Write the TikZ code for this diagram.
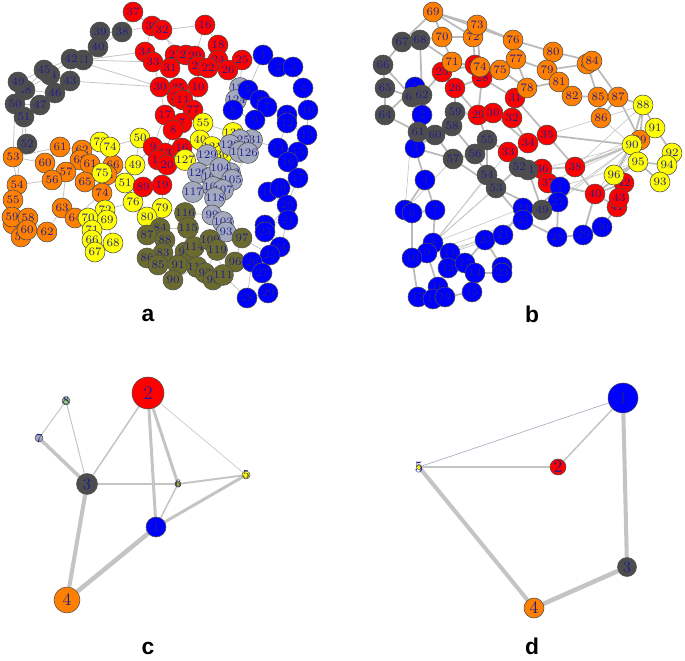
\documentclass[tikz,border=0pt]{standalone}
\usepackage{fontspec}
\newfontfamily\panelfont{Liberation Sans}
\usetikzlibrary{backgrounds}

\definecolor{vred}{HTML}{FF0000}
\definecolor{vblue}{HTML}{0000FF}
\definecolor{vgrey}{HTML}{4D4D4D}
\definecolor{vorange}{HTML}{FF7F00}
\definecolor{vyellow}{HTML}{FFFF00}
\definecolor{volive}{HTML}{6B6B2F}
\definecolor{vslate}{HTML}{A3A9BE}
\definecolor{vgreen}{HTML}{9ACD6A}
\definecolor{vlabel}{HTML}{1F1F8F}
\definecolor{egray}{HTML}{C4C4C4}

\tikzset{
  vtx/.style={circle, draw=black!70, line width=0.3pt, inner sep=0pt,
    minimum size=0.4cm, text=vlabel, font=\fontsize{6.5}{6.5}\selectfont},
  cnode/.style={circle, draw=black!70, line width=0.3pt, inner sep=0pt},
  lab/.style={text=vlabel, inner sep=0pt},
  aedge/.style={draw=egray, line width=0.45pt},
  bedge/.style={draw=egray!95!black, line width=1pt},
  fedge/.style={draw=egray, line width=0.35pt},
  panel/.style={font=\panelfont\fontsize{13}{15}\bfseries\selectfont}
}

\begin{document}
\begin{tikzpicture}[x=0.02cm, y=-0.02cm]
\useasboundingbox (0,0) rectangle (685,661);

% ---- panel a
\foreach \n/\x/\y/\t in {38/122/32/38, 39/100/32/39, 40/98/47/40, 41/83/60/41,
  42/71/59/42, 44/50/75/44, 45/44/70/45, 43/70/81/43, 46/55/93/46, 48/25/90/48,
  49/18/82/49, 47/40/105/47, 50/15/104/50, 51/24/117/51, 52/27/144/52}
  \node[vtx, fill=vgrey] (a\n) at (\x,\y) {\t};
\foreach \n/\x/\y/\t in {53/13/157/53, 54/17/185/54, 55/13/200/55, 56/13/224/56,
  59/12/217/59, 58/28/218/58, 57/21/237/57, 60/27/230/60, 62/47/232/62,
  63/62/208/63, 64/75/218/64, 61/60/147/61, o1/45/163/60, o3/82/150/62,
  o4/80/160/62, o5/90/164/61, o6/66/172/57, o7/52/180/56, o9/85/182/65,
  o10/113/165/66, o11/107/175/64, o12/102/193/74}
  \node[vtx, fill=vorange] (a\n) at (\x,\y) {\t};
\foreach \n/\x/\y/\t in {73/100/142/73, 74/110/147/74, 75/102/173/75, 78/135/165/49,
  81/125/183/51, 76/133/202/76, 79/162/208/79, 80/147/217/80, 72/105/210/72,
  69/107/220/69, 70/88/218/70, 71/92/230/71, 77/92/240/66, 67/95/252/67,
  68/113/243/68, y6/140/138/50}
  \node[vtx, fill=vyellow] (a\n) at (\x,\y) {\t};
\foreach \n/\x/\y/\t in {37/133/12/37, 36/152/26/36, 32/162/30/32, 19/205/25/16,
  18/218/45/18, 25/242/60/25, 24/218/60/24, 26/228/70/26, 34/145/52/34,
  33/153/62/33, 27/175/55/27, 28/186/55/28, 29/195/56/29, 21/198/66/21,
  22/208/68/22, 31/170/68/31, 30/160/87/30, 35/178/88/35, 23/177/97/23,
  10/198/87/10, 11/183/100/11, 17/193/110/77, 12/165/115/17, 7/182/123/7,
  8/173/130/8, 9/153/147/9, 13/165/153/13, 16/182/148/16, r1/158/160/14,
  20/167/165/20, 89/143/187/89, 15/162/185/19}
  \node[vtx, fill=vred] (a\n) at (\x,\y) {\t};
\foreach \n/\x/\y/\t in {y1/203/123/55, y2/200/140/40, y3/212/147/121,
  y4/222/155/30, y5/233/133/135, y7/185/160/127}
  \node[vtx, fill=vyellow] (a\n) at (\x,\y) {\t};
\foreach \n/\x/\y/\t in {s1/240/88/123, s2/236/100/124, s14/252/140/131,
  s3/240/140/125, s4/230/145/122, s5/240/152/128, 126/248/153/126, s6/207/155/129,
  s7/198/173/120, s8/212/177/101, s9/230/173/102, s10/220/168/104, s11/232/180/105,
  s12/213/187/106, s13/223/190/107, 117/193/192/117, 118/215/198/118,
  99/212/215/99, 103/223/222/103, 98/226/232/93}
  \node[vtx, fill=vslate] (a\n) at (\x,\y) {\t};
\foreach \n/\x/\y/\t in {84/160/228/84, 87/147/235/87, 88/165/240/88, 83/163/253/83,
  86/147/258/86, 85/158/265/85, 116/185/213/116, 115/188/228/115, 92/185/252/92,
  114/194/247/114, 109/210/240/109, 119/217/250/119, 97/242/238/97, 96/235/262/96,
  91/178/265/91, 90/173/280/90, 113/197/267/113, 93/205/273/93, 95/213/280/95,
  111/223/275/111}
  \node[vtx, fill=volive] (a\n) at (\x,\y) {\t};
\foreach \n/\x/\y/\t in {b1/263/55/1, b2/278/67/2, b3/293/67/3, b4/303/88/4,
  b5/248/90/5, b6/260/100/6, b7/267/107/7, b8/233/110/8, b9/255/120/9,
  b10/308/110/10, b11/287/115/11, b12/287/123/12, b13/307/135/13, b14/278/148/14,
  b15/298/152/15, b16/288/162/16, b17/298/178/17, b18/268/192/18, b19/280/188/19,
  b20/287/205/20, b21/288/220/21, b22/265/225/22, b23/265/232/23, b24/280/247/24,
  b25/270/255/25, b26/252/262/26, b27/262/273/27, b28/247/298/28, b29/268/293/29}
  \node[vtx, fill=vblue] (a\n) at (\x,\y) {\t};

\begin{pgfonlayer}{background}
\foreach \u/\v in {38/39, 39/40, 38/40, 40/41, 40/42, 41/42, 42/45, 42/44, 42/43,
  43/44, 44/45, 45/49, 44/48, 43/46, 46/47, 45/48, 48/49, 48/50, 49/50, 50/51,
  47/51, 46/48, 47/50, 51/52, 52/53, 38/36, 38/37, 41/33, 42/30, 43/30, 41/34,
  51/54, 50/53,
  53/54, 54/55, 55/59, 59/56, 59/58, 56/60, 58/60, 60/57, 58/62, 62/63, 63/64,
  57/62, 61/o1, o1/o7, o7/o6, o6/o3, o3/o4, o4/o5, o5/o9, o9/o10, o10/o11,
  o11/o12, 61/o3, 61/o4, 53/61, 54/o7, 63/o6, 64/70, 64/o12, o12/72, 53/o1, o9/o6,
  73/74, 74/75, 75/78, 78/81, 81/76, 76/80, 80/79, 72/69, 69/70, 70/71, 71/77,
  77/67, 67/68, 68/69, 72/76, 73/o10, 74/y6, y6/78, 78/9, 81/89, 76/89, 79/15,
  80/87, 79/84, 75/o11,
  37/36, 36/32, 36/34, 34/33, 33/31, 31/27, 27/28, 28/29, 29/21, 21/22, 22/24,
  24/18, 18/19, 19/29, 24/25, 25/26, 26/22, 32/27, 33/30, 30/35, 35/23, 23/10,
  10/21, 35/31, 23/11, 11/17, 17/7, 10/17, 30/12, 12/7, 7/8, 8/13, 13/16, 16/20,
  9/13, 9/r1, r1/20, 20/15, 15/89, 12/9, 37/28, 32/19,
  y1/17, y1/y2, y2/y3, y3/y4, y4/y5, y5/y1, y2/16, y3/s4, y5/s3, y7/16, y7/20, y6/9,
  s1/s2, s2/26, s3/s4, s4/s5, s5/126, 126/s14, s6/s7, s7/s8, s8/s9, s9/s10,
  s10/s11, s11/s12, s12/s13, s13/117, 117/118, 118/99, 99/103, 103/98, s6/s5,
  126/s11, s14/s3, 98/97, 99/116, s6/y4, s1/25,
  84/87, 87/88, 88/83, 83/86, 86/85, 85/91, 91/90, 90/113, 113/93, 93/95, 95/111,
  111/96, 96/97, 97/109, 109/119, 119/96, 116/115, 115/92, 92/114, 114/109,
  115/84, 88/92, 83/91, 113/114, 119/111, 93/119, 116/79,
  b1/b2, b2/b3, b3/b4, b4/b10, b10/b13, b13/b15, b15/b16, b16/b17, b17/b19,
  b19/b18, b18/b20, b20/b21, b21/b22, b22/b23, b23/b24, b24/b25, b25/b26, b26/b27,
  b27/b29, b29/b28, b28/b26, b5/b6, b6/b7, b7/b9, b9/b8, b8/b5, b6/b11, b11/b12,
  b12/b14, b14/b15, b1/b5, b7/b11, b13/b12, b21/b24, b24/b27, b20/b23, b17/b20,
  b8/s2, b5/s1, b26/96, b25/97, b28/111, b1/25, b14/s14}
  \draw[aedge] (a\u) -- (a\v);
\end{pgfonlayer}

% ---- panel b
\foreach \n/\x/\y/\t in {27/475/65/27, 25/442/72/25, 28/482/78/28, 26/455/88/26,
  31/515/98/31, 29/478/115/29, 30/493/113/30, 32/512/118/32, 35/547/135/35,
  34/528/143/34, 33/508/152/33, 36/542/169/36, 38/575/167/38, 37/548/183/37,
  40/595/194/40, 42/624/183/42, 41/617/207/41, 43/619/198/43}
  \node[vtx, fill=vred] (b\n) at (\x,\y) {\t};
\foreach \n/\x/\y/\t in {69/433/12/69, 72/473/37/72, 73/477/25/73, 70/442/37/70,
  71/452/62/71, 74/480/67/74, 76/513/40/76, 77/516/59/77, 75/500/70/75,
  78/527/88/78, 80/553/52/80, 79/547/70/79, 81/559/82/81, 82/572/96/82,
  83/587/64/83, 84/592/61/84, 85/598/97/85, 87/618/97/87, 86/601/118/86,
  89/640/140/89}
  \node[vtx, fill=vorange] (b\n) at (\x,\y) {\t};
\foreach \n/\x/\y/\t in {c1/415/87/1, c2/422/115/2, c3/415/148/3, c4/425/180/4,
  c5/405/210/5, c6/412/213/6, c7/435/210/7, c8/433/243/8, c9/427/253/9,
  c10/412/258/10, c11/450/253/11, c12/448/268/12, c13/465/263/13, c14/475/273/14,
  c15/472/292/15, c16/438/287/16, c17/418/297/17, c18/433/299/18, c19/445/297/19,
  c20/485/240/20, c21/503/235/21, c22/502/267/22, c23/502/273/23, c24/523/208/24,
  c25/523/220/25, c26/560/187/1, c27/558/202/27, c28/557/237/28, c29/583/235/29,
  c30/602/227/30}
  \node[vtx, fill=vblue] (b\n) at (\x,\y) {\t};
\foreach \n/\x/\y/\t in {67/402/42/67, 68/420/40/68, 66/383/65/66, 65/385/88/65,
  64/385/115/64, 63/412/97/63, 62/422/95/62, 59/455/112/59, 58/452/126/58,
  61/418/132/61, 60/435/135/60, 55/487/140/55, 56/475/154/56, 57/453/159/57,
  54/487/175/54, 53/496/188/53, 51/528/170/51, 52/519/167/52, 49/542/210/49}
  \node[vtx, fill=vgrey] (b\n) at (\x,\y) {\t};
\foreach \n/\x/\y/\t in {88/643/105/88, 91/655/128/91, 90/632/145/90, 95/638/162/95,
  92/672/153/92, 94/667/165/94, 93/660/182/93, 96/614/175/96}
  \node[vtx, fill=vyellow] (b\n) at (\x,\y) {\t};

\begin{pgfonlayer}{background}
\foreach \u/\v in {69/70, 69/73, 69/72, 70/72, 70/71, 72/73, 73/76, 73/74, 71/74,
  74/75, 75/77, 76/77, 76/80, 77/79, 80/79, 79/81, 81/82, 80/84, 84/83, 83/85,
  85/87, 85/86, 86/87, 82/85, 87/88, 75/78, 78/31, 71/25, 72/27, 67/69, 68/70,
  68/71, 77/78, 84/87, 81/78, 69/76, 83/79,
  25/26, 25/27, 27/28, 28/26, 26/29, 28/29, 29/30, 30/32, 32/31, 31/28, 30/34,
  32/34, 34/35, 33/34, 33/36, 36/38, 35/38, 36/37, 38/40, 40/42, 42/43, 43/41,
  40/41, 42/96, 96/90, 33/55, 38/90, 35/90, 40/95, 29/59, 35/31, 37/40,
  67/68, 67/66, 66/65, 65/64, 64/61, 65/63, 63/62, 62/61, 61/60, 60/58, 58/59,
  59/26, 60/57, 57/56, 56/55, 55/54, 54/53, 53/52, 52/51, 51/36, 56/54, 49/51,
  49/53, 68/62, 66/63, 57/53, 55/29, 58/56, 62/25,
  88/91, 91/92, 92/94, 94/93, 93/95, 95/90, 90/91, 95/94, 88/90, 96/95, 89/88,
  89/91, 89/87,
  c1/c2, c2/c3, c3/c4, c4/c5, c4/c7, c5/c6, c6/c7, c6/c10, c7/c8, c8/c9, c9/c10,
  c8/c11, c11/c12, c12/c13, c13/c14, c14/c15, c12/c16, c16/c18, c17/c18, c18/c19,
  c19/c15, c10/c17, c9/c16, c20/c21, c21/c24, c24/c25, c20/c22, c22/c23, c23/c14,
  c13/c20, c25/c26, c26/c27, c27/c28, c28/c29, c29/c30, c28/c25, c1/64, c2/61,
  c3/57, c24/49, c25/53, c26/36, c27/37, c29/40, c30/41, c1/63, c3/60}
  \draw[bedge] (b\u) -- (b\v);
\foreach \u/\v in {c8/53, c8/52, c9/54, c8/c24, c9/c25, c11/c21, c10/c20, 90/49,
  90/37, 90/c27, 90/36, 90/40, 91/38, 88/35, 86/90, 89/96, c5/57, c1/c5, 88/38,
  c8/33, c11/49, 95/c26}
  \draw[fedge] (b\u) -- (b\v);
\end{pgfonlayer}

% ---- panel c
\node[cnode, fill=vred, minimum size=0.64cm, label={[lab, font=\fontsize{11}{11}\selectfont]center:2}] (c2) at (148,393) {};
\node[cnode, fill=vgreen, minimum size=0.16cm, label={[lab, font=\fontsize{7}{7}\selectfont]center:8}] (c8) at (66,401) {};
\node[cnode, fill=vslate, minimum size=0.16cm, label={[lab, font=\fontsize{7}{7}\selectfont]center:7}] (c7) at (39,438) {};
\node[cnode, fill=vgrey, minimum size=0.42cm, label={[lab, font=\fontsize{9}{9}\selectfont]center:3}] (c3) at (87,484) {};
\node[cnode, fill=volive!60!vyellow, minimum size=0.12cm, label={[lab, font=\fontsize{6.5}{6.5}\selectfont]center:6}] (c6) at (178,484) {};
\node[cnode, fill=vyellow, minimum size=0.16cm, label={[lab, font=\fontsize{7}{7}\selectfont]center:5}] (c5) at (246,475) {};
\node[cnode, fill=vblue, minimum size=0.4cm, label={[lab, font=\fontsize{8}{8}\selectfont]center:1}] (c1) at (156,527) {};
\node[cnode, fill=vorange, minimum size=0.52cm, label={[lab, font=\fontsize{10}{10}\selectfont]center:4}] (c4) at (67,600) {};
\begin{pgfonlayer}{background}
\draw[draw=egray, line width=0.55pt] (c8) -- (c7);
\draw[draw=egray, line width=0.55pt] (c8) -- (c3);
\draw[draw=egray, line width=2pt] (c7) -- (c3);
\draw[draw=egray, line width=0.85pt] (c2) -- (c3);
\draw[draw=egray, line width=1.7pt] (c2) -- (c1);
\draw[draw=egray, line width=1.7pt] (c2) -- (c6);
\draw[draw=egray, line width=0.35pt] (c2) -- (c5);
\draw[draw=egray, line width=1.4pt] (c3) -- (c6);
\draw[draw=egray, line width=1.1pt] (c6) -- (c5);
\draw[draw=egray, line width=0.85pt] (c6) -- (c1);
\draw[draw=egray, line width=1.7pt] (c5) -- (c1);
\draw[draw=egray, line width=2.3pt] (c3) -- (c4);
\draw[draw=egray, line width=2.6pt] (c1) -- (c4);
\end{pgfonlayer}

% ---- panel d
\node[cnode, fill=vblue, minimum size=0.6cm, label={[lab, font=\fontsize{10}{10}\selectfont]center:1}] (d1) at (623,398) {};
\node[cnode, fill=vred, minimum size=0.32cm, label={[lab, font=\fontsize{10}{10}\selectfont]center:2}] (d2) at (558,467) {};
\node[cnode, fill=vyellow, minimum size=0.1cm, label={[lab, font=\fontsize{9}{9}\selectfont]center:5}] (d5) at (419,467) {};
\node[cnode, fill=vgrey, minimum size=0.38cm, label={[lab, font=\fontsize{9}{9}\selectfont]center:3}] (d3) at (627,567) {};
\node[cnode, fill=vorange, minimum size=0.4cm, label={[lab, font=\fontsize{10}{10}\selectfont]center:4}] (d4) at (534,608) {};
\begin{pgfonlayer}{background}
\draw[draw=vslate, line width=0.35pt] (d1) -- (d5);
\draw[draw=egray, line width=0.6pt] (d5) -- (d2);
\draw[draw=egray, line width=0.85pt] (d2) -- (d1);
\draw[draw=egray, line width=2.3pt] (d1) -- (d3);
\draw[draw=egray, line width=2.6pt] (d3) -- (d4);
\draw[draw=egray, line width=2.3pt] (d5) -- (d4);
\end{pgfonlayer}

% ---- panel letters
\node[panel] (la) at (148,315) {a};
\node[panel] (lb) at (532,314) {b};
\node[panel] (lc) at (148,648) {c};
\node[panel] (ld) at (532,646) {d};
\end{tikzpicture}
\end{document}
